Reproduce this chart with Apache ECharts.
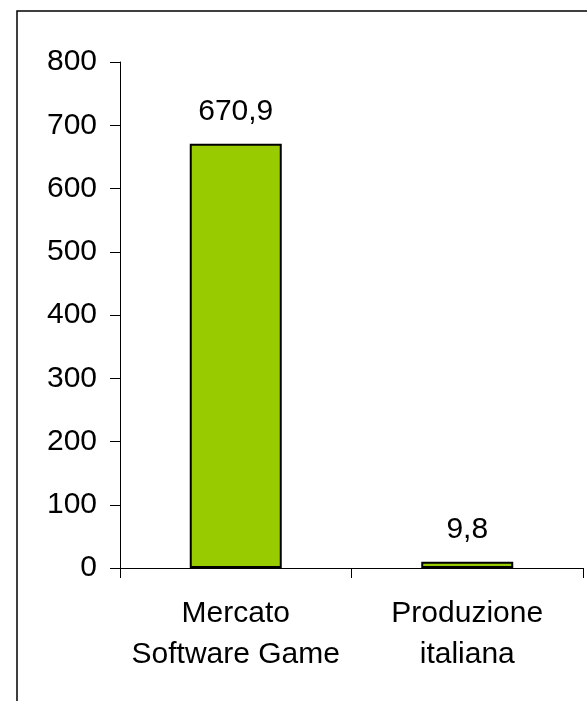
<!DOCTYPE html>
<html>
<head>
<meta charset="utf-8">
<style>
  html, body { margin: 0; padding: 0; background: #fff; }
  #chart { width: 587px; height: 701px; }
</style>
<script src="https://cdn.jsdelivr.net/npm/echarts@6/dist/echarts.min.js"></script>
</head>
<body>
<div id="chart"></div>
<script>
// Categories and values (milioni di euro)
const categories = ['Mercato\nSoftware Game', 'Produzione\nitaliana'];
const values = [670.9, 9.8];
const yTicks = [0, 100, 200, 300, 400, 500, 600, 700, 800];

const FONT = '"Liberation Sans", Arial, sans-serif';
const chart = echarts.init(document.getElementById('chart'), null, { renderer: 'canvas' });

chart.setOption({
  backgroundColor: '#ffffff',
  animation: false,
  // frame around the chart area
  graphic: [{
    type: 'rect',
    shape: { x: 17, y: 11, width: 700, height: 800 },
    style: { fill: 'none', stroke: '#000', lineWidth: 1.5 },
    silent: true
  }],
  grid: { left: 120, top: 62, width: 463, height: 506, containLabel: false },
  xAxis: {
    type: 'category',
    data: categories,
    boundaryGap: true,
    axisLine: { lineStyle: { color: '#000', width: 1 } },
    axisTick: { show: true, length: 10, alignWithLabel: false, lineStyle: { color: '#000' } },
    axisLabel: {
      color: '#000', fontFamily: FONT, fontSize: 30, lineHeight: 41, margin: 25, interval: 0
    }
  },
  yAxis: {
    type: 'value',
    min: yTicks[0],
    max: yTicks[yTicks.length - 1],
    interval: 100,
    axisLine: { show: true, lineStyle: { color: '#000', width: 1 } },
    axisTick: { show: true, length: 10, lineStyle: { color: '#000' } },
    splitLine: { show: false },
    axisLabel: { color: '#000', fontFamily: FONT, fontSize: 30, margin: 23 }
  },
  series: [{
    type: 'bar',
    data: values,
    barWidth: 92,
    itemStyle: { color: '#99CC00', borderColor: '#000', borderWidth: 2 },
    label: {
      show: true,
      position: 'top',
      distance: 17,
      color: '#000',
      fontFamily: FONT,
      fontSize: 30,
      formatter: p => String(p.value).replace('.', ',')
    }
  }]
});
</script>
</body>
</html>
